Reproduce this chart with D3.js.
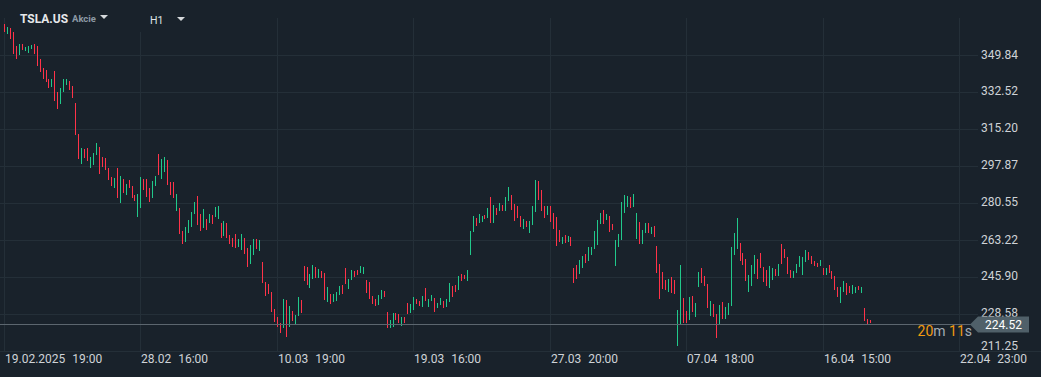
<!DOCTYPE html>
<html>
  <head>
    <meta charset="utf-8">
    <title>TSLA.US H1</title>
    <style>
      html, body { margin: 0; padding: 0; background: #19222b; }
      svg { display: block; font-family: Roboto, "Noto Sans", sans-serif; }
      .grid line { stroke: #242f38; stroke-width: 1; shape-rendering: crispEdges; }
      .axis-label { fill: #cfd3d7; font-size: 12px; }
    </style>
  </head>
  <body>
    <svg width="1041" height="377"></svg>
    <script src="https://cdn.jsdelivr.net/npm/d3@7"></script>
    <script type="application/javascript">
      // hourly candles, oldest first (open / close)
      const opens = [
        364.5, 360.0, 362.5, 360.9, 354.1, 350.1, 355.1, 352.0, 351.1, 353.0,
        355.1, 354.2, 348.3, 343.8, 343.0, 338.9, 335.2, 342.5, 332.5, 327.1,
        332.8, 336.1, 337.7, 335.3, 327.5, 313.0, 299.1, 306.0, 306.3, 297.1,
        298.3, 303.0, 306.9, 302.2, 301.8, 297.1, 292.9, 287.7, 297.1, 280.9,
        291.9, 284.6, 291.6, 288.8, 284.5, 273.9, 278.5, 292.1, 291.9, 287.6,
        283.2, 288.8, 303.6, 292.1, 295.4, 301.0, 290.5, 290.4, 277.1, 278.2,
        267.6, 262.2, 266.8, 269.6, 275.6, 284.0, 275.6, 269.2, 273.2, 271.5,
        275.1, 274.0, 273.4, 271.4, 265.4, 271.4, 265.7, 264.3, 266.2, 260.3,
        258.9, 264.3, 259.6, 252.3, 256.5, 263.9, 258.4, 253.1, 243.7, 242.9,
        239.0, 231.2, 227.5, 224.7, 222.0, 235.3, 222.8, 230.1, 223.4, 228.0,
        235.3, 251.2, 250.7, 241.1, 245.3, 250.7, 245.8, 248.9, 248.1, 234.1,
        238.1, 234.1, 235.0, 237.6, 242.3, 250.3, 240.6, 244.7, 248.9, 249.3,
        247.8, 247.5, 244.7, 243.7, 237.2, 235.9, 233.1, 235.8, 239.5, 229.7,
        222.2, 222.7, 229.2, 228.7, 223.1, 227.3, 233.9, 229.4, 230.8, 235.8,
        235.0, 232.0, 240.9, 232.0, 234.8, 236.2, 231.6, 233.0, 235.0, 232.0,
        234.4, 242.0, 242.5, 240.0, 247.6, 247.0, 244.2, 256.4, 267.1, 273.7,
        271.4, 271.8, 275.1, 273.7, 283.5, 271.4, 278.4, 277.0, 279.8, 277.0,
        281.6, 284.5, 280.2, 279.3, 274.6, 268.5, 272.3, 266.7, 270.4, 276.5,
        291.0, 286.8, 279.3, 275.1, 279.3, 276.0, 274.2, 268.1, 261.5, 265.7,
        262.5, 264.8, 250.3, 251.7, 247.5, 250.3, 256.8, 253.6, 256.4, 259.3,
        261.0, 270.9, 277.4, 272.7, 274.6, 270.9, 251.2, 260.1, 263.4, 276.0,
        278.8, 283.5, 278.8, 263.9, 271.8, 261.5, 266.7, 271.4, 266.2, 269.9,
        260.6, 252.2, 248.4, 244.7, 239.0, 246.1, 244.7, 213.8, 224.1, 236.2,
        230.1, 225.9, 237.2, 227.3, 241.4, 250.3, 246.5, 242.8, 227.8, 233.4,
        228.7, 224.1, 234.4, 226.4, 228.3, 232.5, 256.4, 259.3, 262.0, 257.3,
        254.5, 239.0, 241.9, 247.5, 254.5, 257.3, 250.7, 249.3, 240.9, 244.7,
        249.8, 246.5, 261.5, 259.3, 255.4, 249.3, 245.6, 247.9, 250.7, 247.0,
        253.1, 257.8, 255.9, 253.6, 252.6, 251.2, 250.3, 247.0, 251.7, 248.9,
        246.5, 241.4, 233.9, 239.0, 243.3, 241.9, 238.1, 238.6, 241.9, 238.6,
        231.6, 226.4, 225.9
      ];
      const closes = [
        360.9, 363.1, 357.5, 350.5, 348.3, 355.1, 352.5, 353.7, 354.2, 354.7,
        350.5, 344.9, 342.0, 338.9, 337.5, 334.7, 338.8, 328.6, 324.9, 334.7,
        338.9, 338.8, 333.5, 330.0, 312.7, 301.5, 306.5, 301.9, 300.5, 302.4,
        304.3, 308.8, 294.4, 297.7, 296.3, 291.6, 288.7, 292.4, 283.1, 293.2,
        285.6, 289.6, 287.7, 282.9, 281.5, 284.8, 292.9, 286.8, 283.7, 281.3,
        291.2, 293.4, 293.8, 301.5, 302.2, 289.3, 284.6, 283.2, 284.9, 266.4,
        261.7, 269.5, 272.7, 276.5, 281.2, 270.4, 267.8, 277.9, 268.2, 275.6,
        271.0, 278.8, 279.3, 264.5, 272.3, 264.5, 261.7, 260.1, 259.8, 263.9,
        266.2, 257.0, 250.9, 261.2, 263.9, 259.3, 263.4, 243.4, 237.3, 238.3,
        229.8, 224.8, 222.4, 220.0, 235.8, 218.1, 232.5, 225.6, 228.3, 236.7,
        229.4, 244.3, 242.5, 247.5, 251.7, 245.8, 249.8, 245.8, 235.5, 241.4,
        233.6, 238.1, 239.0, 241.9, 238.3, 242.9, 245.1, 249.3, 246.1, 247.0,
        251.4, 250.7, 238.7, 235.9, 233.4, 232.5, 237.6, 240.0, 236.7, 222.2,
        225.9, 229.4, 225.9, 224.5, 227.3, 224.5, 228.9, 233.4, 236.7, 233.3,
        232.5, 237.2, 234.8, 235.8, 237.6, 229.7, 233.9, 236.2, 231.6, 235.8,
        243.3, 236.7, 239.0, 246.5, 244.2, 245.1, 249.3, 267.6, 274.6, 269.9,
        275.6, 274.6, 273.2, 278.4, 271.4, 279.8, 275.1, 280.7, 277.0, 283.5,
        288.2, 277.4, 272.4, 273.7, 269.5, 273.2, 269.5, 272.3, 279.3, 291.5,
        282.1, 277.0, 273.7, 279.3, 271.8, 268.5, 260.6, 262.5, 264.8, 262.0,
        265.3, 260.6, 243.3, 245.1, 254.0, 255.9, 252.6, 260.1, 260.1, 267.6,
        272.7, 276.0, 270.9, 275.6, 267.1, 268.1, 263.4, 266.2, 281.2, 284.5,
        284.0, 278.4, 284.9, 276.0, 261.5, 268.1, 271.4, 266.7, 269.5, 264.8,
        247.9, 235.8, 240.5, 240.0, 245.1, 238.6, 238.1, 230.6, 251.7, 224.5,
        224.5, 236.7, 229.7, 233.9, 248.4, 243.3, 241.9, 231.6, 234.8, 227.3,
        217.5, 233.0, 226.4, 232.0, 233.9, 260.1, 266.7, 273.7, 253.6, 251.7,
        244.2, 247.0, 251.7, 256.4, 245.1, 250.3, 243.7, 241.9, 251.2, 250.3,
        246.5, 252.2, 252.2, 255.0, 247.5, 245.6, 248.9, 252.2, 255.9, 255.4,
        258.7, 254.0, 252.2, 251.2, 250.7, 254.0, 247.0, 250.3, 247.9, 245.1,
        240.0, 236.7, 241.4, 244.2, 237.6, 238.6, 242.3, 241.4, 240.0, 241.4,
        225.5, 224.1, 224.52
      ];

      const priceTicks = [349.84, 332.52, 315.20, 297.87, 280.55, 263.22, 245.90, 228.58, 211.25];
      const timeTickIndex = [0, 46, 92, 138, 184, 230, 276, 322];
      const timeTickDate = ["19.02.2025", "28.02", "10.03", "19.03", "27.03", "07.04", "16.04", "22.04"];
      const timeTickHour = ["19:00", "16:00", "19:00", "16:00", "20:00", "18:00", "15:00", "23:00"];

      const lastPrice = closes[closes.length - 1];
      const timerMin = 20;
      const timerSec = 11;

      const svg = d3.select("svg");
      const width = +svg.attr("width");
      const height = +svg.attr("height");
      const red = "#ff3349";
      const green = "#21c98b";

      svg.append("rect")
        .attr("width", width)
        .attr("height", height)
        .attr("fill", "#19222b");

      const x = d3.scaleLinear()
        .domain([0, 322])
        .range([4, 959]);

      const y = d3.scaleLinear()
        .domain([211.25, 349.84])
        .range([351.3, 55.3]);

      const candles = opens.map((o, i) => ({ i, o, c: closes[i] }));

      // grid
      const grid = svg.append("g").attr("class", "grid");
      grid.selectAll(".hline")
        .data(priceTicks.slice(0, -1))
        .enter()
          .append("line")
          .attr("x1", 0)
          .attr("x2", 978)
          .attr("y1", d => Math.round(y(d)) + 0.5)
          .attr("y2", d => Math.round(y(d)) + 0.5);

      grid.selectAll(".vline")
        .data(timeTickIndex)
        .enter()
          .append("line")
          .attr("x1", d => Math.round(x(d)) + 0.5)
          .attr("x2", d => Math.round(x(d)) + 0.5)
          .attr("y1", 18)
          .attr("y2", 351);

      grid.append("line")
        .attr("x1", 0)
        .attr("x2", width)
        .attr("y1", 351.5)
        .attr("y2", 351.5);

      // candles
      svg.append("g")
        .attr("shape-rendering", "crispEdges")
        .selectAll("rect")
        .data(candles)
        .enter()
          .append("rect")
          .attr("x", d => Math.round(x(d.i)))
          .attr("width", 1)
          .attr("y", d => y(Math.max(d.o, d.c)))
          .attr("height", d => Math.max(1, Math.abs(y(d.o) - y(d.c))))
          .attr("fill", d => d.c >= d.o ? green : red);

      // last price line
      const yLast = Math.round(y(lastPrice)) + 1.5;
      svg.append("line")
        .attr("x1", 0)
        .attr("x2", 972)
        .attr("y1", yLast)
        .attr("y2", yLast)
        .attr("stroke", "#5c666f")
        .attr("stroke-width", 1);

      // price axis labels
      svg.append("g")
        .selectAll("text")
        .data(priceTicks)
        .enter()
          .append("text")
          .attr("class", "axis-label")
          .attr("x", 981)
          .attr("y", d => Math.min(y(d) - 1, 346))
          .attr("dy", "0.35em")
          .text(d => d.toFixed(2));

      // time axis labels
      const tl = svg.append("g")
        .selectAll("text")
        .data(timeTickIndex)
        .enter()
          .append("text")
          .attr("class", "axis-label")
          .attr("x", d => Math.round(x(d)) + 1)
          .attr("y", 363);
      tl.append("tspan").text((d, i) => timeTickDate[i]);
      tl.append("tspan").attr("dx", 7).text((d, i) => timeTickHour[i]);

      // current price marker
      const my = yLast;
      svg.append("path")
        .attr("d", `M970,${my} L978,${my - 8} L1029,${my - 8} L1029,${my + 8} L978,${my + 8} Z`)
        .attr("fill", "#506069");
      svg.append("text")
        .attr("x", 985)
        .attr("y", my)
        .attr("dy", "0.35em")
        .attr("fill", "#ffffff")
        .attr("font-size", 12)
        .text(lastPrice.toFixed(2));

      // candle timer
      const timer = svg.append("text")
        .attr("x", 972)
        .attr("y", my + 7)
        .attr("dy", "0.35em")
        .attr("text-anchor", "end")
        .attr("font-size", 14);
      timer.append("tspan").attr("fill", "#f39a10").text(timerMin);
      timer.append("tspan").attr("fill", "#a3acb4").text("m ");
      timer.append("tspan").attr("fill", "#f39a10").text(timerSec);
      timer.append("tspan").attr("fill", "#a3acb4").text("s");

      // header
      svg.append("rect")
        .attr("x", 15)
        .attr("y", 0)
        .attr("width", 180)
        .attr("height", 32)
        .attr("fill", "#19222b");
      svg.append("text")
        .attr("x", 20)
        .attr("y", 23)
        .attr("fill", "#e6e8ea")
        .attr("font-size", 12.5)
        .attr("font-weight", "bold")
        .attr("textLength", 48)
        .attr("lengthAdjust", "spacingAndGlyphs")
        .text("TSLA.US");
      svg.append("text")
        .attr("x", 72)
        .attr("y", 22)
        .attr("fill", "#8c99a5")
        .attr("font-size", 9.5)
        .attr("font-weight", "bold")
        .text("Akcie");
      svg.append("text")
        .attr("x", 150)
        .attr("y", 24)
        .attr("fill", "#dfe2e5")
        .attr("font-size", 10.5)
        .text("H1");
      svg.append("path")
        .attr("d", "M100,15 L108,15 L104,19 Z")
        .attr("fill", "#d6d9dc");
      svg.append("path")
        .attr("d", "M177,17 L185,17 L181,21 Z")
        .attr("fill", "#d6d9dc");
    </script>
  </body>
</html>
